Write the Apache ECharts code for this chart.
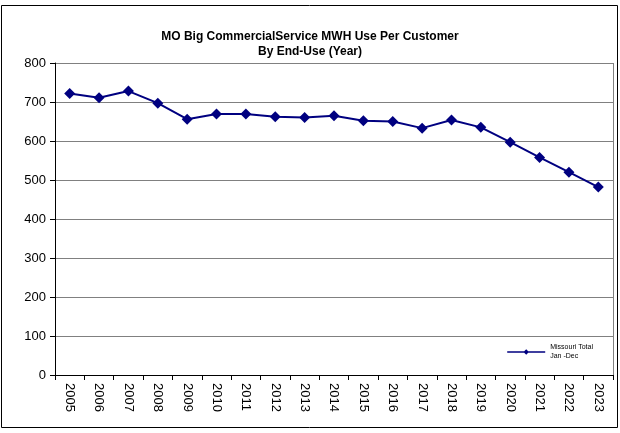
<!DOCTYPE html>
<html>
<head>
<meta charset="utf-8">
<script src="https://cdn.jsdelivr.net/npm/echarts@6/dist/echarts.min.js"></script>
<style>
html,body{margin:0;padding:0;background:#fff;}
#main{width:620px;height:433px;}
</style>
</head>
<body>
<div id="main"></div>
<script>
// data
var years = ['2005','2006','2007','2008','2009','2010','2011','2012','2013','2014','2015','2016','2017','2018','2019','2020','2021','2022','2023'];
var moTotal = [722, 711, 728, 697, 656, 669, 669, 662, 660, 665, 652, 650, 633, 654, 635, 597, 558, 520, 482];
var yTicks = [0, 100, 200, 300, 400, 500, 600, 700, 800];

var myChart = echarts.init(document.getElementById('main'));

var option = {
    animation: false,
    textStyle: { fontFamily: 'Liberation Sans, Arial, sans-serif' },
    graphic: [{
        type: 'rect',
        shape: { x: 1.5, y: 5.5, width: 616, height: 422 },
        style: { fill: 'none', stroke: '#000', lineWidth: 1 }
    }],
    title: {
        text: 'MO Big CommercialService MWH Use Per Customer\nBy End-Use (Year)',
        left: 305,
        textAlign: 'center',
        top: 24,
        textStyle: { fontSize: 12, fontWeight: 'bold', color: '#000', lineHeight: 15 }
    },
    legend: {
        data: ['Missouri Total\nJan -Dec'],
        right: 22,
        top: 338,
        itemWidth: 38,
        itemHeight: 7,
        itemGap: 3,
        icon: 'path://M0,3 L17,3 L19,1 L21,3 L38,3 L38,4.5 L21,4.5 L19,6.5 L17,4.5 L0,4.5 Z',
        itemStyle: { color: '#000080' },
        textStyle: { fontSize: 7, color: '#000', lineHeight: 9 }
    },
    grid: { left: 55, right: 7, top: 63, bottom: 58 },
    xAxis: {
        type: 'category',
        data: years,
        boundaryGap: true,
        axisLine: { lineStyle: { color: '#000', width: 1 } },
        axisTick: { show: true, alignWithLabel: false, length: 5, lineStyle: { color: '#000' } },
        axisLabel: { rotate: -90, color: '#000', fontSize: 13, margin: 8 },
        splitLine: { show: false }
    },
    yAxis: {
        type: 'value',
        min: yTicks[0],
        max: yTicks[yTicks.length - 1],
        interval: 100,
        axisLine: { show: true, lineStyle: { color: '#000', width: 1 } },
        axisTick: { show: true, length: 5, lineStyle: { color: '#000' } },
        axisLabel: { color: '#000', fontSize: 13, margin: 9 },
        splitLine: { show: true, lineStyle: { color: '#808080', width: 1 } }
    },
    series: [{
        name: 'Missouri Total\nJan -Dec',
        type: 'line',
        data: moTotal,
        symbol: 'diamond',
        symbolSize: 11,
        lineStyle: { color: '#000080', width: 2 },
        itemStyle: { color: '#000080' },
        z: 5
    }, {
        type: 'line',
        data: [],
        markLine: {
            silent: true,
            symbol: 'none',
            label: { show: false },
            lineStyle: { color: '#808080', type: 'solid', width: 1 },
            data: [[{ x: 613, y: 63 }, { x: 613, y: 375 }]]
        }
    }]
};

myChart.setOption(option);
</script>
</body>
</html>
